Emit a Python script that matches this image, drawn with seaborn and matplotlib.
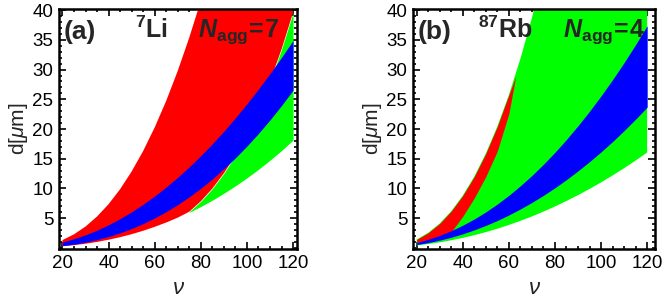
import matplotlib
matplotlib.use("Agg")
import matplotlib.pyplot as plt
import seaborn as sns
import numpy as np
from matplotlib.ticker import MultipleLocator


# Style
sns.set_style("ticks")
plt.rcParams["font.family"] = ["Liberation Sans", "DejaVu Sans"]
plt.rcParams["mathtext.fontset"] = "custom"
plt.rcParams["mathtext.rm"] = "Liberation Sans"
plt.rcParams["mathtext.it"] = "Liberation Sans:italic"
plt.rcParams["mathtext.bf"] = "Liberation Sans:bold"
plt.rcParams["mathtext.bfit"] = "Liberation Sans:italic:bold"

RED = "#ff0000"
BLUE = "#0000ff"
GREEN = "#00ff00"


# Panel (a): 7Li, N_agg = 7
nu_a = [20, 25, 30, 35, 40, 45, 50, 55, 60, 65, 70, 75, 80, 85, 90, 95, 100, 105, 110, 115, 120]
red_hi_a = [1.3, 2.27, 3.58, 5.27, 7.35, 9.87, 12.85, 16.3, 20.27, 24.75, 29.8, 35.4, 41.6,
            48.4, 55.8, 63.9, 72.7, 82.1, 92.2, 103.0, 114.7]
red_lo_a = [0.26, 0.45, 0.69, 0.99, 1.36, 1.79, 2.29, 2.87, 3.53, 4.26, 5.08, 6.08, 7.83,
            9.98, 12.54, 15.57, 19.11, 23.23, 27.98, 33.42, 39.6]
blue_lo_a = [0.36, 0.61, 0.95, 1.38, 1.9, 2.52, 3.25, 4.08, 5.03, 6.09, 7.28, 8.59, 10.03,
             11.6, 13.31, 15.15, 17.13, 19.26, 21.53, 23.96, 26.54]
blue_hi_a = [0.97, 1.52, 2.18, 2.97, 3.88, 4.91, 6.06, 7.34, 8.73, 10.25, 11.88, 13.64, 15.52,
             17.52, 19.64, 21.89, 24.25, 26.74, 29.34, 32.07, 34.92]
nu_green_a = [75, 80, 85, 90, 95, 100, 105, 110, 115, 120]
green_lo_a = [5.97, 6.96, 8.03, 9.19, 10.44, 11.78, 13.22, 14.75, 16.38, 18.12]
green_hi_a = [6.08, 7.83, 9.98, 12.54, 15.57, 19.11, 23.23, 27.98, 33.42, 39.6]

# Panel (b): 87Rb, N_agg = 4
nu_b = [20, 25, 30, 35, 40, 45, 50, 55, 60, 65, 70, 75, 80, 85, 90, 95, 100, 105, 110, 115, 120]
green_lo_b = [0.4, 0.63, 0.92, 1.27, 1.67, 2.13, 2.64, 3.21, 3.85, 4.54, 5.28, 6.09, 6.96,
              7.88, 8.86, 9.91, 11.01, 12.18, 13.4, 14.69, 16.04]
green_hi_b = [1.4, 2.53, 4.1, 6.17, 8.79, 12.0, 15.88, 20.43, 25.73, 31.82, 38.72, 46.5, 55.2,
              64.8, 75.4, 86.9, 99.6, 113.4, 128.2, 144.3, 161.6]
blue_lo_b = [0.55, 0.88, 1.29, 1.78, 2.36, 3.02, 3.77, 4.6, 5.53, 6.54, 7.64, 8.83, 10.11,
             11.48, 12.95, 14.5, 16.15, 17.89, 19.73, 21.66, 23.69]
blue_hi_b = [0.9, 1.43, 2.09, 2.88, 3.81, 4.86, 6.05, 7.38, 8.84, 10.45, 12.19, 14.07, 16.09,
             18.25, 20.56, 23.0, 25.59, 28.32, 31.19, 34.22, 37.4]
nu_red_b = [20, 25, 30, 35, 40, 45, 50, 55, 60, 63]
red_lo_b = [0.9, 1.3, 1.9, 2.7, 5.3, 8.4, 12.0, 16.3, 22.6, 28.9]
red_hi_b = [1.4, 2.53, 4.1, 6.17, 8.79, 12.0, 15.88, 20.43, 25.73, 28.9]

xticks = [20, 40, 60, 80, 100, 120]
yticks = [5, 10, 15, 20, 25, 30, 35, 40]


fig = plt.figure(figsize=(6.65, 3.06), dpi=100)
ax_a = fig.add_axes([59 / 665, 57 / 306, 238 / 665, 240 / 306])
ax_b = fig.add_axes([413 / 665, 57 / 306, 242 / 665, 240 / 306])


def fill(ax, x, lo, hi, color):
    ax.fill_between(x, lo, hi, color=color, linewidth=0, zorder=2)


# (a)
fill(ax_a, nu_green_a, green_lo_a, green_hi_a, GREEN)
fill(ax_a, nu_a, red_lo_a, red_hi_a, RED)
fill(ax_a, nu_a, blue_lo_a, blue_hi_a, BLUE)

# (b)
fill(ax_b, nu_b, green_lo_b, green_hi_b, GREEN)
fill(ax_b, nu_red_b, red_lo_b, red_hi_b, RED)
fill(ax_b, nu_b, blue_lo_b, blue_hi_b, BLUE)


for ax in (ax_a, ax_b):
    ax.set_ylim(-0.2, 40.2)
    ax.set_xticks(xticks)
    ax.set_yticks(yticks)
    ax.xaxis.set_minor_locator(MultipleLocator(5))
    ax.yaxis.set_minor_locator(MultipleLocator(1))
    ax.tick_params(which="both", direction="in", top=True, right=True,
                   width=1.2, labelsize=13.5, colors="black", pad=4)
    ax.tick_params(which="major", length=5)
    ax.tick_params(which="minor", length=2.5)
    for s in ax.spines.values():
        s.set_linewidth(1.8)
        s.set_color("black")
    ax.set_xlabel(r"$\nu$", fontsize=16, labelpad=5)
    ax.set_ylabel(r"d[$\mu$m]", fontsize=15, labelpad=2)

ax_a.set_xlim(18.5, 121.7)
ax_b.set_xlim(18.4, 123.4)

ax_a.text(0.02, 0.905, "(a)", transform=ax_a.transAxes, fontsize=19,
          fontweight="bold", va="center", ha="left", zorder=5)
ax_a.text(0.39, 0.915, r"$^{\mathbf{7}}\mathbf{Li}$", transform=ax_a.transAxes,
          fontsize=18, va="center", ha="center", zorder=5)
ax_a.text(0.755, 0.905, r"$\mathbfit{N}_{\mathbf{agg}}\!\mathbf{=}\!\mathbf{7}$",
          transform=ax_a.transAxes, fontsize=18, va="center", ha="center", zorder=5)

ax_b.text(0.02, 0.905, "(b)", transform=ax_b.transAxes, fontsize=19,
          fontweight="bold", va="center", ha="left", zorder=5)
ax_b.text(0.38, 0.915, r"$^{\mathbf{87}}\mathbf{Rb}$", transform=ax_b.transAxes,
          fontsize=18, va="center", ha="center", zorder=5)
ax_b.text(0.79, 0.905, r"$\mathbfit{N}_{\mathbf{agg}}\!\mathbf{=}\!\mathbf{4}$",
          transform=ax_b.transAxes, fontsize=18, va="center", ha="center", zorder=5)

plt.savefig("out.png", dpi=100)
